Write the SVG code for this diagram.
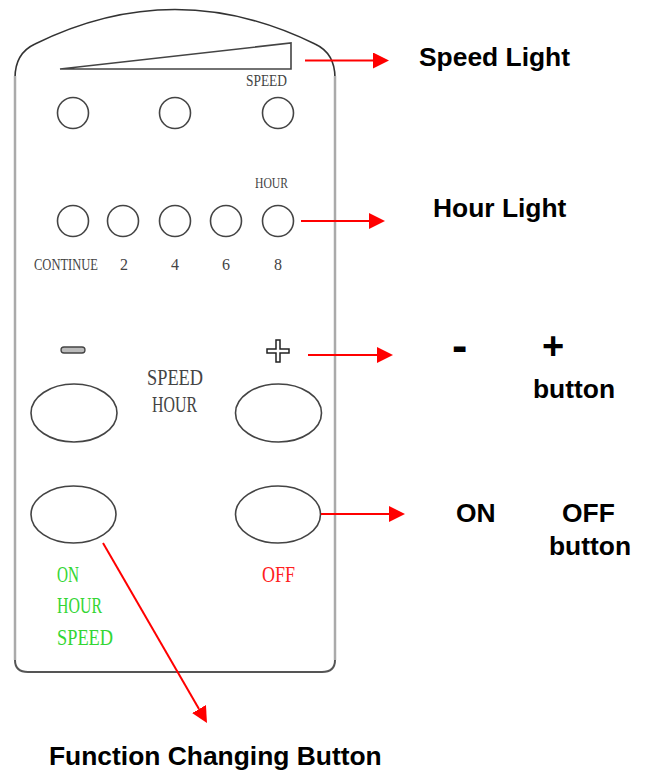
<svg xmlns="http://www.w3.org/2000/svg" width="646" height="771" viewBox="0 0 646 771">
<style>
.dev{fill:none;stroke:#444;stroke-width:1.6}
.lbl{font-family:"Liberation Serif",serif;fill:#444}
.big{font-family:"Liberation Sans",Arial,sans-serif;font-weight:bold;font-size:26.4px;fill:#000}
.grn{fill:#33d633}
.red{fill:#ff2020}
.arr{stroke:#ff0000;stroke-width:2;fill:none}
</style>
<defs>
<marker id="ah" markerUnits="userSpaceOnUse" markerWidth="16" markerHeight="16" refX="0" refY="8" orient="auto">
<path d="M0,0 L16,8 L0,16 z" fill="#ff0000"/>
</marker>
</defs>
<rect width="646" height="771" fill="#fff"/>
<g id="remote">
<path d="M15,78 C15,60 22,50 35,44 Q175,-25 315,44 C328,50 335,60 335,78" fill="none" stroke="#333" stroke-width="1.6"/>
<path d="M15,76 L15,660 M335,76 L335,660" fill="none" stroke="#aaa" stroke-width="2.5"/>
<path d="M15,660 Q15,672 28,672 L322,672 Q335,672 335,660" fill="none" stroke="#555" stroke-width="2"/>
</g>
<g id="speed-light">
<polygon points="60,69 291,43 291,69" class="dev"/>
<text class="lbl" x="246" y="86" font-size="17" textLength="41" lengthAdjust="spacingAndGlyphs">SPEED</text>
<circle cx="73" cy="113" r="15.5" class="dev"/>
<circle cx="175" cy="113" r="15.5" class="dev"/>
<circle cx="278" cy="113" r="15.5" class="dev"/>
</g>
<g id="hour-light">
<text class="lbl" x="255" y="188" font-size="14" textLength="33" lengthAdjust="spacingAndGlyphs">HOUR</text>
<circle cx="73" cy="221" r="15.5" class="dev"/>
<circle cx="123" cy="221" r="15.5" class="dev"/>
<circle cx="175" cy="221" r="15.5" class="dev"/>
<circle cx="226" cy="221" r="15.5" class="dev"/>
<circle cx="278" cy="221" r="15.5" class="dev"/>
<text class="lbl" x="34" y="270" font-size="17" textLength="64" lengthAdjust="spacingAndGlyphs">CONTINUE</text>
<text class="lbl" x="124" y="270" font-size="16" text-anchor="middle">2</text>
<text class="lbl" x="175" y="270" font-size="16" text-anchor="middle">4</text>
<text class="lbl" x="226" y="270" font-size="16" text-anchor="middle">6</text>
<text class="lbl" x="278" y="270" font-size="16" text-anchor="middle">8</text>
</g>
<g id="minus-button">
<rect x="61" y="347" width="24" height="6" rx="3" fill="#bbb" stroke="#444" stroke-width="1.3"/>
<ellipse cx="74" cy="413" rx="43" ry="29" class="dev"/>
</g>
<g id="mode-label">
<text class="lbl" x="147" y="385" font-size="24" textLength="56" lengthAdjust="spacingAndGlyphs">SPEED</text>
<text class="lbl" x="152" y="412" font-size="24" textLength="45" lengthAdjust="spacingAndGlyphs">HOUR</text>
</g>
<g id="plus-button">
<path d="M276,340 L280,340 L280,349 L289,349 L289,353 L280,353 L280,362 L276,362 L276,353 L267,353 L267,349 L276,349 Z" fill="#fff" stroke="#222" stroke-width="1.5"/>
<ellipse cx="278.5" cy="413" rx="43" ry="29" class="dev"/>
</g>
<g id="on-button">
<ellipse cx="73.5" cy="514.5" rx="42.5" ry="28.5" class="dev"/>
<text class="lbl grn" x="57" y="582" font-size="24" textLength="22" lengthAdjust="spacingAndGlyphs">ON</text>
<text class="lbl grn" x="57" y="613" font-size="24" textLength="45" lengthAdjust="spacingAndGlyphs">HOUR</text>
<text class="lbl grn" x="57" y="645" font-size="24" textLength="56" lengthAdjust="spacingAndGlyphs">SPEED</text>
</g>
<g id="off-button">
<ellipse cx="278" cy="514.5" rx="42.5" ry="28.5" class="dev"/>
<text class="lbl red" x="262" y="582" font-size="24" textLength="33" lengthAdjust="spacingAndGlyphs">OFF</text>
</g>
<g id="connectors">
<line x1="305" y1="60.5" x2="373" y2="60.5" class="arr" marker-end="url(#ah)"/>
<line x1="301" y1="221" x2="369" y2="221" class="arr" marker-end="url(#ah)"/>
<line x1="308" y1="355" x2="377" y2="355" class="arr" marker-end="url(#ah)"/>
<line x1="321" y1="514" x2="389" y2="514" class="arr" marker-end="url(#ah)"/>
<line x1="103" y1="543" x2="199" y2="709.1" class="arr" marker-end="url(#ah)"/>
</g>
<g id="callouts">
<text class="big" x="419" y="66">Speed Light</text>
<text class="big" x="433" y="217">Hour Light</text>
<text class="big" x="452" y="361" style="font-size:46px">-</text>
<text class="big" x="542" y="359" style="font-size:38px">+</text>
<text class="big" x="533" y="398">button</text>
<text class="big" x="456" y="522">ON</text>
<text class="big" x="562" y="522">OFF</text>
<text class="big" x="549" y="555">button</text>
<text class="big" x="49" y="765">Function Changing Button</text>
</g>
</svg>
